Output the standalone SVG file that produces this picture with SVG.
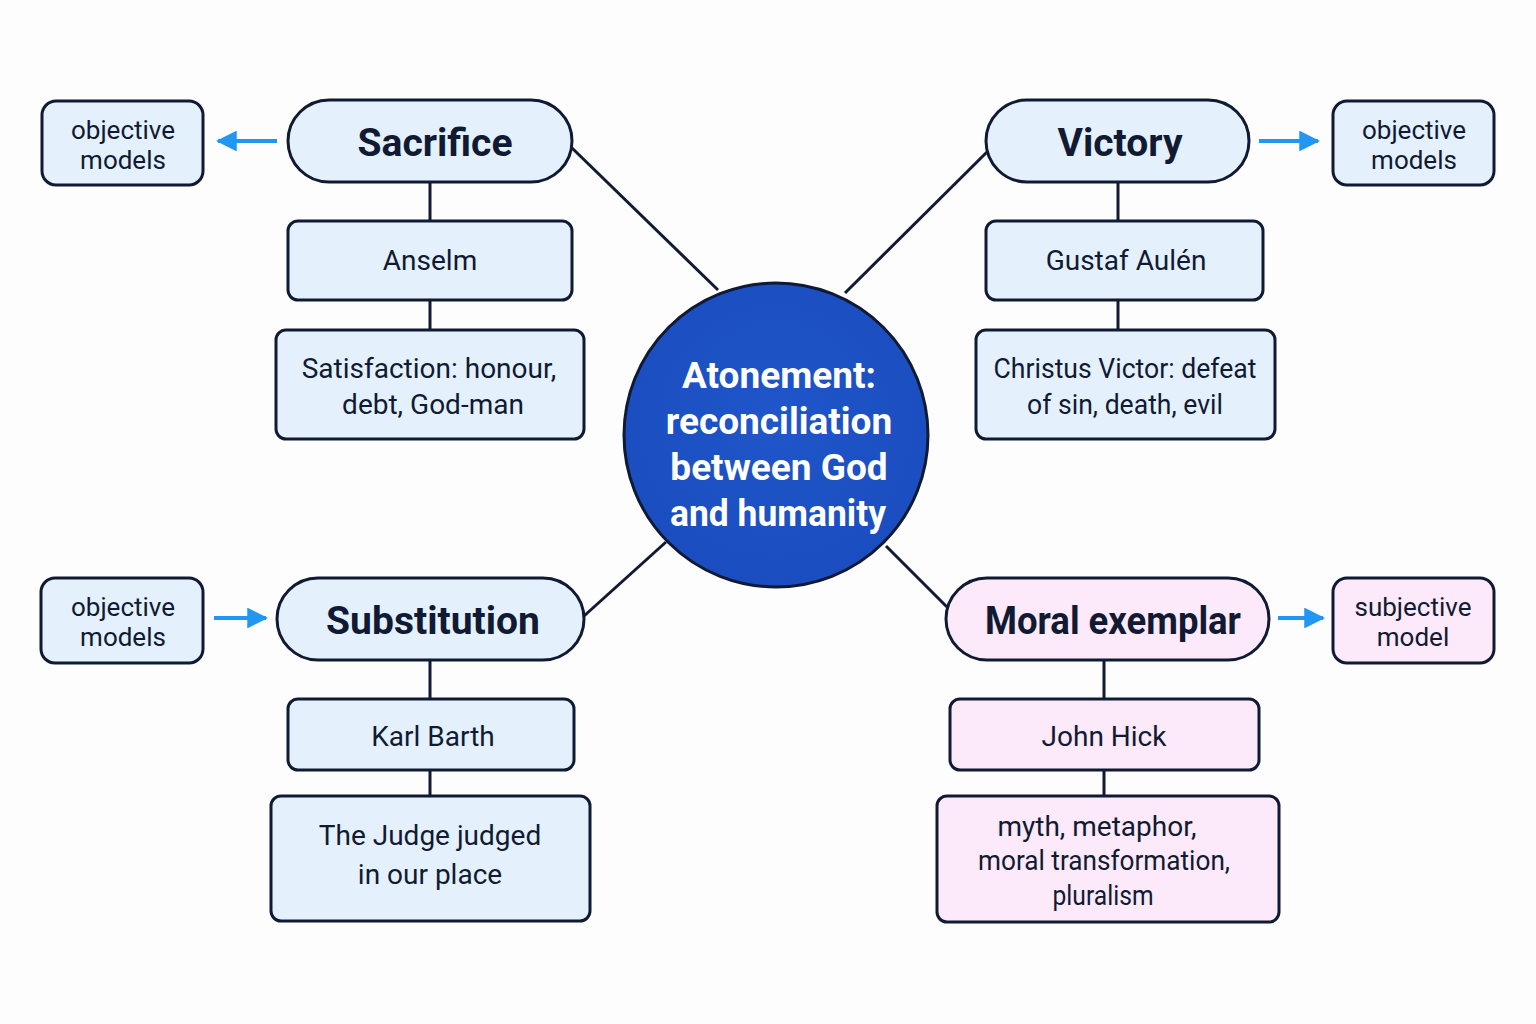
<svg xmlns="http://www.w3.org/2000/svg" width="1536" height="1024" viewBox="0 0 1536 1024">
  <defs>
    <marker id="arrow" viewBox="0 0 10 10" refX="9" refY="5" markerWidth="5.2" markerHeight="5.2" orient="auto">
      <path d="M0,0 L10,5 L0,10 Z" fill="#2196f3"/>
    </marker>
    <radialGradient id="hubFill" cx="50%" cy="45%" r="60%">
      <stop offset="0" stop-color="#1f56c9"/>
      <stop offset="1" stop-color="#1a4cbf"/>
    </radialGradient>
  </defs>
  <style>
    .blue { fill: #e4f1fd; stroke: #111a33; stroke-width: 3; }
    .pink { fill: #fce9f9; stroke: #111a33; stroke-width: 3; }
    .link { stroke: #111a33; stroke-width: 3; fill: none; }
    .arr { stroke: #2196f3; stroke-width: 4; fill: none; marker-end: url(#arrow); }
    text { font-family: Roboto, "Liberation Sans", sans-serif; fill: #111a33; text-anchor: middle; }
    .title { font-size: 39px; font-weight: 700; }
    .sub { font-size: 28px; }
    .tag { font-size: 26px; }
    .hub { font-size: 37px; font-weight: 700; fill: #ffffff; }
  </style>
  <rect width="1536" height="1024" fill="#fdfdfe"/>

  <!-- connectors -->
  <g id="connectors">
    <line class="link" x1="572" y1="148" x2="718" y2="290"/>
    <line class="link" x1="987" y1="152" x2="845" y2="293"/>
    <line class="link" x1="584" y1="616" x2="666" y2="542"/>
    <line class="link" x1="886" y1="546" x2="947" y2="607"/>
    <line class="link" x1="430" y1="182" x2="430" y2="221"/>
    <line class="link" x1="430" y1="300" x2="430" y2="330"/>
    <line class="link" x1="1118" y1="182" x2="1118" y2="221"/>
    <line class="link" x1="1118" y1="300" x2="1118" y2="330"/>
    <line class="link" x1="430" y1="660" x2="430" y2="699"/>
    <line class="link" x1="430" y1="770" x2="430" y2="796"/>
    <line class="link" x1="1104" y1="660" x2="1104" y2="699"/>
    <line class="link" x1="1104" y1="770" x2="1104" y2="796"/>
    <line class="arr" x1="277" y1="141" x2="218" y2="141"/>
    <line class="arr" x1="1259" y1="141" x2="1318" y2="141"/>
    <line class="arr" x1="214" y1="618" x2="266" y2="618"/>
    <line class="arr" x1="1278" y1="618" x2="1323" y2="618"/>
  </g>

  <!-- central hub -->
  <g id="hub">
    <circle cx="776" cy="435" r="152" fill="url(#hubFill)" stroke="#111a33" stroke-width="3"/>
    <text class="hub" x="779" y="388">Atonement:</text>
    <text class="hub" x="779" y="434">reconciliation</text>
    <text class="hub" x="779" y="480">between God</text>
    <text class="hub" x="778" y="526" textLength="216" lengthAdjust="spacingAndGlyphs">and humanity</text>
  </g>

  <!-- Sacrifice branch -->
  <g id="sacrifice">
    <rect class="blue" x="288" y="100" width="284" height="82" rx="41"/>
    <text class="title" x="435" y="156">Sacrifice</text>
  </g>
  <g id="anselm">
    <rect class="blue" x="288" y="221" width="284" height="79" rx="10"/>
    <text class="sub" x="430" y="270">Anselm</text>
  </g>
  <g id="satisfaction">
    <rect class="blue" x="276" y="330" width="308" height="109" rx="10"/>
    <text class="sub" x="429" y="378">Satisfaction: honour,</text>
    <text class="sub" x="433" y="414">debt, God-man</text>
  </g>
  <g id="tag-sacrifice">
    <rect class="blue" x="42" y="101" width="161" height="84" rx="14"/>
    <text class="tag" x="123" y="139">objective</text>
    <text class="tag" x="123" y="169">models</text>
  </g>

  <!-- Victory branch -->
  <g id="victory">
    <rect class="blue" x="986" y="100" width="263" height="82" rx="41"/>
    <text class="title" x="1120" y="156">Victory</text>
  </g>
  <g id="aulen">
    <rect class="blue" x="986" y="221" width="277" height="79" rx="10"/>
    <text class="sub" x="1126" y="270">Gustaf Aulén</text>
  </g>
  <g id="christus-victor">
    <rect class="blue" x="976" y="330" width="299" height="109" rx="10"/>
    <text class="sub" x="1125" y="378" textLength="263" lengthAdjust="spacingAndGlyphs">Christus Victor: defeat</text>
    <text class="sub" x="1125" y="414" textLength="196" lengthAdjust="spacingAndGlyphs">of sin, death, evil</text>
  </g>
  <g id="tag-victory">
    <rect class="blue" x="1333" y="101" width="161" height="84" rx="14"/>
    <text class="tag" x="1414" y="139">objective</text>
    <text class="tag" x="1414" y="169">models</text>
  </g>

  <!-- Substitution branch -->
  <g id="substitution">
    <rect class="blue" x="277" y="578" width="307" height="82" rx="41"/>
    <text class="title" x="433" y="634">Substitution</text>
  </g>
  <g id="barth">
    <rect class="blue" x="288" y="699" width="286" height="71" rx="10"/>
    <text class="sub" x="433" y="746">Karl Barth</text>
  </g>
  <g id="judge">
    <rect class="blue" x="271" y="796" width="319" height="125" rx="10"/>
    <text class="sub" x="430" y="845">The Judge judged</text>
    <text class="sub" x="430" y="884">in our place</text>
  </g>
  <g id="tag-substitution">
    <rect class="blue" x="41" y="578" width="162" height="85" rx="14"/>
    <text class="tag" x="123" y="616">objective</text>
    <text class="tag" x="123" y="646">models</text>
  </g>

  <!-- Moral exemplar branch -->
  <g id="moral-exemplar">
    <rect class="pink" x="946" y="578" width="323" height="82" rx="41"/>
    <text class="title" x="1113" y="634" textLength="256" lengthAdjust="spacingAndGlyphs">Moral exemplar</text>
  </g>
  <g id="hick">
    <rect class="pink" x="950" y="699" width="309" height="71" rx="10"/>
    <text class="sub" x="1104" y="746">John Hick</text>
  </g>
  <g id="myth">
    <rect class="pink" x="937" y="796" width="342" height="126" rx="10"/>
    <text class="sub" x="1097" y="836" textLength="199" lengthAdjust="spacingAndGlyphs">myth, metaphor,</text>
    <text class="sub" x="1104" y="870" textLength="252" lengthAdjust="spacingAndGlyphs">moral transformation,</text>
    <text class="sub" x="1103" y="905" textLength="101" lengthAdjust="spacingAndGlyphs">pluralism</text>
  </g>
  <g id="tag-moral">
    <rect class="pink" x="1333" y="578" width="161" height="85" rx="14"/>
    <text class="tag" x="1413" y="616">subjective</text>
    <text class="tag" x="1413" y="646">model</text>
  </g>
</svg>
